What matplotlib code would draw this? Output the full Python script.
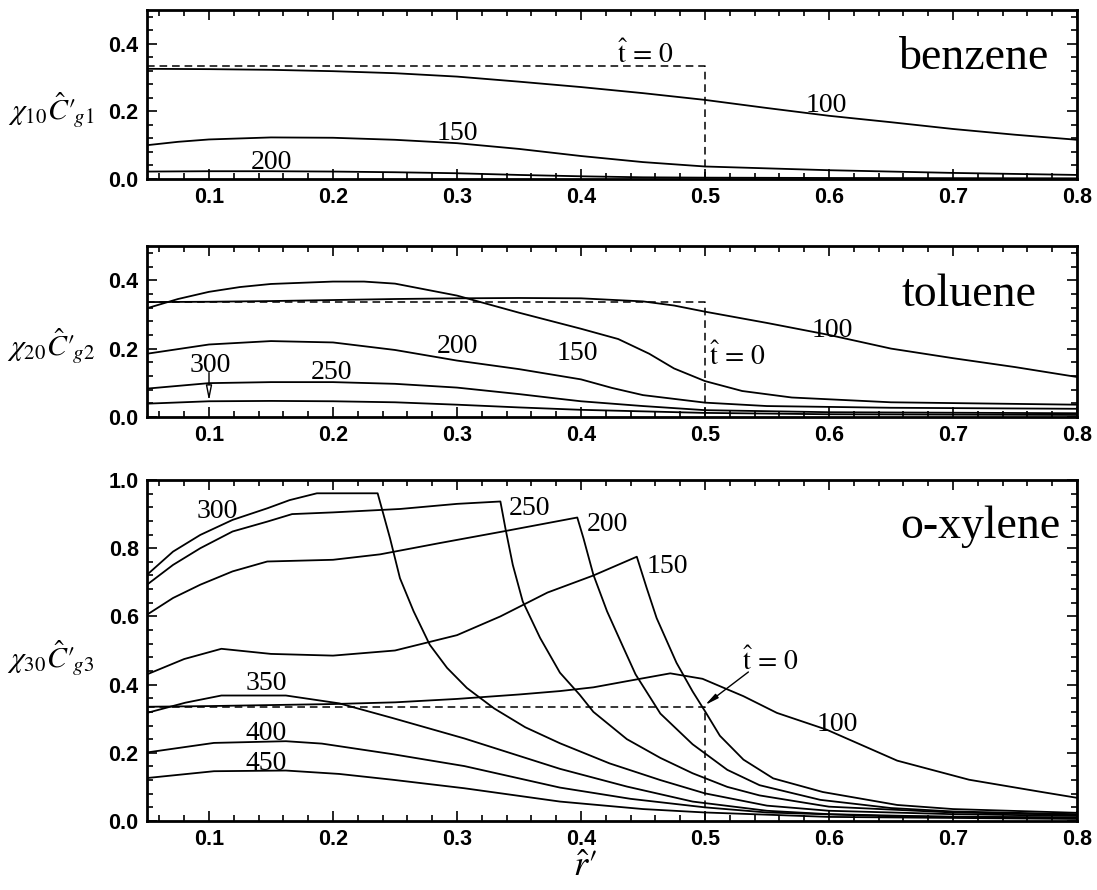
import matplotlib
matplotlib.use('Agg')
import matplotlib.pyplot as plt
from matplotlib.ticker import MultipleLocator, AutoMinorLocator, FormatStrFormatter

plt.rcParams['mathtext.fontset'] = 'stix'

W, H = 1097, 890

# ---------------- data: benzene ----------------
b_t0_r = [0.05, 0.5, 0.5]
b_t0_c = [0.333, 0.333, 0.0]
b100_r = [0.05, 0.1, 0.15, 0.2, 0.25, 0.3, 0.35, 0.4, 0.45, 0.5, 0.55, 0.6, 0.65, 0.7, 0.75, 0.8]
b100_c = [0.326, 0.325, 0.323, 0.319, 0.313, 0.303, 0.288, 0.272, 0.254, 0.234, 0.21, 0.187, 0.168, 0.148, 0.131, 0.116]
b150_r = [0.05, 0.075, 0.1, 0.15, 0.2, 0.25, 0.3, 0.35, 0.4, 0.45, 0.5, 0.6, 0.7, 0.8]
b150_c = [0.1, 0.11, 0.117, 0.123, 0.122, 0.116, 0.106, 0.089, 0.068, 0.05, 0.037, 0.026, 0.018, 0.012]
b200_r = [0.05, 0.1, 0.15, 0.2, 0.25, 0.3, 0.35, 0.4, 0.45, 0.5, 0.6, 0.8]
b200_c = [0.022, 0.023, 0.023, 0.022, 0.02, 0.017, 0.012, 0.008, 0.005, 0.004, 0.003, 0.002]

# ---------------- data: toluene ----------------
t_t0_r = [0.05, 0.5, 0.5]
t_t0_c = [0.336, 0.336, 0.0]
t100_r = [0.05, 0.1, 0.15, 0.2, 0.25, 0.3, 0.35, 0.4, 0.45, 0.475, 0.5, 0.55, 0.6, 0.65, 0.7, 0.75, 0.8]
t100_c = [0.336, 0.337, 0.339, 0.342, 0.345, 0.347, 0.348, 0.347, 0.338, 0.326, 0.308, 0.275, 0.24, 0.2, 0.172, 0.146, 0.117]
t150_r = [0.05, 0.075, 0.1, 0.125, 0.15, 0.2, 0.225, 0.25, 0.3, 0.35, 0.4, 0.43, 0.455, 0.475, 0.5, 0.53, 0.57, 0.65, 0.8]
t150_c = [0.318, 0.345, 0.366, 0.38, 0.389, 0.396, 0.396, 0.39, 0.355, 0.305, 0.258, 0.228, 0.185, 0.142, 0.105, 0.076, 0.057, 0.043, 0.036]
t200_r = [0.05, 0.1, 0.15, 0.2, 0.25, 0.3, 0.35, 0.38, 0.4, 0.425, 0.45, 0.5, 0.55, 0.65, 0.8]
t200_c = [0.185, 0.212, 0.222, 0.218, 0.196, 0.165, 0.14, 0.122, 0.11, 0.085, 0.064, 0.042, 0.032, 0.027, 0.024]
t250_r = [0.05, 0.1, 0.15, 0.2, 0.25, 0.3, 0.35, 0.383, 0.4, 0.45, 0.5, 0.6, 0.8]
t250_c = [0.083, 0.099, 0.102, 0.102, 0.097, 0.086, 0.067, 0.053, 0.046, 0.032, 0.02, 0.014, 0.011]
t300_r = [0.05, 0.1, 0.15, 0.2, 0.25, 0.3, 0.35, 0.4, 0.5, 0.6, 0.8]
t300_c = [0.039, 0.046, 0.047, 0.046, 0.043, 0.036, 0.028, 0.021, 0.012, 0.008, 0.006]

# ---------------- data: o-xylene ----------------
x_t0_r = [0.05, 0.5, 0.5]
x_t0_c = [0.335, 0.335, 0.0]
x100_r = [0.05, 0.1, 0.15, 0.2, 0.25, 0.3, 0.35, 0.383, 0.41, 0.437, 0.472, 0.498, 0.531, 0.558, 0.598, 0.655, 0.713, 0.77, 0.8]
x100_c = [0.335, 0.337, 0.34, 0.343, 0.348, 0.358, 0.371, 0.381, 0.392, 0.41, 0.433, 0.417, 0.366, 0.317, 0.268, 0.177, 0.121, 0.086, 0.068]
x150_r = [0.05, 0.08, 0.11, 0.15, 0.2, 0.25, 0.3, 0.335, 0.373, 0.41, 0.445, 0.453, 0.461, 0.477, 0.49, 0.5, 0.512, 0.531, 0.555, 0.595, 0.655, 0.7, 0.8]
x150_c = [0.43, 0.475, 0.505, 0.49, 0.485, 0.5, 0.545, 0.6, 0.67, 0.72, 0.775, 0.683, 0.595, 0.464, 0.38, 0.322, 0.25, 0.18, 0.125, 0.085, 0.047, 0.035, 0.024]
x200_r = [0.05, 0.071, 0.093, 0.119, 0.147, 0.2, 0.238, 0.286, 0.337, 0.397, 0.402, 0.41, 0.421, 0.434, 0.444, 0.464, 0.49, 0.518, 0.544, 0.593, 0.65, 0.7, 0.8]
x200_c = [0.605, 0.654, 0.693, 0.732, 0.761, 0.766, 0.782, 0.815, 0.849, 0.89, 0.829, 0.722, 0.615, 0.51, 0.43, 0.315, 0.225, 0.15, 0.105, 0.062, 0.038, 0.028, 0.02]
x250_r = [0.05, 0.071, 0.093, 0.119, 0.147, 0.167, 0.2, 0.254, 0.3, 0.335, 0.339, 0.345, 0.353, 0.367, 0.383, 0.399, 0.41, 0.437, 0.464, 0.49, 0.518, 0.544, 0.6, 0.7, 0.8]
x250_c = [0.693, 0.751, 0.8, 0.849, 0.878, 0.9, 0.905, 0.915, 0.93, 0.937, 0.859, 0.751, 0.644, 0.537, 0.435, 0.37, 0.32, 0.24, 0.185, 0.14, 0.1, 0.075, 0.042, 0.025, 0.018]
x300_r = [0.05, 0.071, 0.093, 0.119, 0.147, 0.165, 0.187, 0.236, 0.246, 0.254, 0.265, 0.278, 0.292, 0.308, 0.33, 0.355, 0.383, 0.423, 0.464, 0.5, 0.55, 0.6, 0.7, 0.8]
x300_c = [0.722, 0.79, 0.839, 0.883, 0.917, 0.941, 0.961, 0.961, 0.829, 0.712, 0.615, 0.517, 0.449, 0.39, 0.33, 0.275, 0.228, 0.169, 0.12, 0.081, 0.045, 0.03, 0.02, 0.015]
x350_r = [0.05, 0.081, 0.11, 0.162, 0.205, 0.248, 0.306, 0.383, 0.437, 0.49, 0.55, 0.6, 0.7, 0.8]
x350_c = [0.317, 0.347, 0.368, 0.368, 0.345, 0.302, 0.242, 0.153, 0.101, 0.057, 0.03, 0.02, 0.012, 0.01]
x400_r = [0.05, 0.104, 0.162, 0.191, 0.248, 0.306, 0.383, 0.44, 0.5, 0.55, 0.65, 0.8]
x400_c = [0.201, 0.229, 0.234, 0.227, 0.196, 0.161, 0.098, 0.065, 0.04, 0.025, 0.014, 0.01]
x450_r = [0.05, 0.104, 0.162, 0.205, 0.248, 0.306, 0.383, 0.45, 0.5, 0.6, 0.8]
x450_c = [0.126, 0.146, 0.148, 0.138, 0.121, 0.096, 0.057, 0.035, 0.025, 0.012, 0.006]

x_ticks = [0.1, 0.2, 0.3, 0.4, 0.5, 0.6, 0.7, 0.8]

SERIF = 'Liberation Serif'
LW = 1.3
DASH = (5.0, 3.2)

fig = plt.figure(figsize=(W / 100, H / 100), dpi=100)


def make_ax(top, bottom, ymax):
    ax = fig.add_axes([147 / W, 1 - bottom / H, 930 / W, (bottom - top) / H])
    ax.set_xlim(0.05, 0.8)
    ax.set_ylim(0, ymax)
    ax.set_xticks(x_ticks)
    ax.xaxis.set_minor_locator(MultipleLocator(0.02))
    ax.yaxis.set_major_locator(MultipleLocator(0.2))
    ax.yaxis.set_minor_locator(AutoMinorLocator(5))
    ax.xaxis.set_major_formatter(FormatStrFormatter('%.1f'))
    ax.yaxis.set_major_formatter(FormatStrFormatter('%.1f'))
    ax.tick_params(which='both', direction='in', top=True, right=True, width=1.2)
    ax.tick_params(which='major', length=7, labelsize=15.5, pad=6)
    ax.tick_params(which='minor', length=4)
    for lab in ax.get_xticklabels() + ax.get_yticklabels():
        lab.set_fontfamily('Liberation Sans')
        lab.set_fontweight('bold')
    for s in ax.spines.values():
        s.set_linewidth(2.0)
    return ax


def curve(ax, r, c):
    ax.plot(r, c, color='black', lw=LW, solid_joinstyle='round')


def dashed(ax, r, c):
    ax.plot(r, c, color='black', lw=1.1, linestyle=(0, DASH))


def num(ax, x, y, s, ha='center', size=20):
    ax.text(x, y, s, ha=ha, va='baseline', fontsize=size, family=SERIF)


T0 = r'$\hat{\mathrm{t}}\,\mathrm{=}\,\mathrm{0}$'

# ---------------- benzene ----------------
ax1 = make_ax(10, 179, 0.5)
dashed(ax1, b_t0_r, b_t0_c)
curve(ax1, b100_r, b100_c)
curve(ax1, b150_r, b150_c)
curve(ax1, b200_r, b200_c)
num(ax1, 0.452, 0.342, T0)
num(ax1, 0.598, 0.198, '100')
num(ax1, 0.300, 0.114, '150')
num(ax1, 0.150, 0.030, '200')
ax1.text(0.717, 0.324, 'benzene', ha='center', va='baseline', fontsize=33, family=SERIF)

# ---------------- toluene ----------------
ax2 = make_ax(246, 417, 0.5)
dashed(ax2, t_t0_r, t_t0_c)
curve(ax2, t100_r, t100_c)
curve(ax2, t150_r, t150_c)
curve(ax2, t200_r, t200_c)
curve(ax2, t250_r, t250_c)
curve(ax2, t300_r, t300_c)
num(ax2, 0.603, 0.235, '100')
num(ax2, 0.397, 0.167, '150')
num(ax2, 0.300, 0.186, '200')
num(ax2, 0.199, 0.110, '250')
num(ax2, 0.101, 0.132, '300')
num(ax2, 0.503, 0.152, T0, ha='left')
ax2.annotate('', xy=(0.1, 0.047), xytext=(0.1, 0.13),
             arrowprops=dict(arrowstyle='-|>,head_width=0.18,head_length=0.9',
                             lw=1.0, color='black', fc='white', shrinkA=0, shrinkB=0))
ax2.text(0.713, 0.324, 'toluene', ha='center', va='baseline', fontsize=33, family=SERIF)

# ---------------- o-xylene ----------------
ax3 = make_ax(480, 821, 1.0)
dashed(ax3, x_t0_r, x_t0_c)
for r, c in [(x100_r, x100_c), (x150_r, x150_c), (x200_r, x200_c), (x250_r, x250_c),
             (x300_r, x300_c), (x350_r, x350_c), (x400_r, x400_c), (x450_r, x450_c)]:
    curve(ax3, r, c)
num(ax3, 0.107, 0.888, '300')
num(ax3, 0.342, 0.898, '250', ha='left')
num(ax3, 0.405, 0.849, '200', ha='left')
num(ax3, 0.453, 0.727, '150', ha='left')
num(ax3, 0.607, 0.263, '100')
num(ax3, 0.146, 0.383, '350')
num(ax3, 0.146, 0.237, '400')
num(ax3, 0.146, 0.151, '450')
num(ax3, 0.553, 0.444, T0)
ax3.annotate('', xy=(0.5, 0.34), xytext=(0.535, 0.437),
             arrowprops=dict(arrowstyle='-|>,head_width=0.15,head_length=0.8',
                             lw=1.0, color='black', shrinkA=0, shrinkB=0))
ax3.text(0.722, 0.829, 'o-xylene', ha='center', va='baseline', fontsize=33, family=SERIF)

# ---------------- axis labels ----------------
ylab_kw = dict(ha='center', va='center', fontsize=21.5)
fig.text(51 / W, 1 - 110 / H, r"$\chi_{\mathit{10}}\hat{C}\prime_{\!\mathit{g1}}$", **ylab_kw)
fig.text(51 / W, 1 - 346 / H, r"$\chi_{\mathit{20}}\hat{C}\prime_{\!\mathit{g2}}$", **ylab_kw)
fig.text(51 / W, 1 - 658 / H, r"$\chi_{\mathit{30}}\hat{C}\prime_{\!\mathit{g3}}$", **ylab_kw)
fig.text(585 / W, 1 - 866 / H, r"$\hat{r}\prime$", ha='center', va='center', fontsize=26)

fig.savefig('out.png', dpi=100)
